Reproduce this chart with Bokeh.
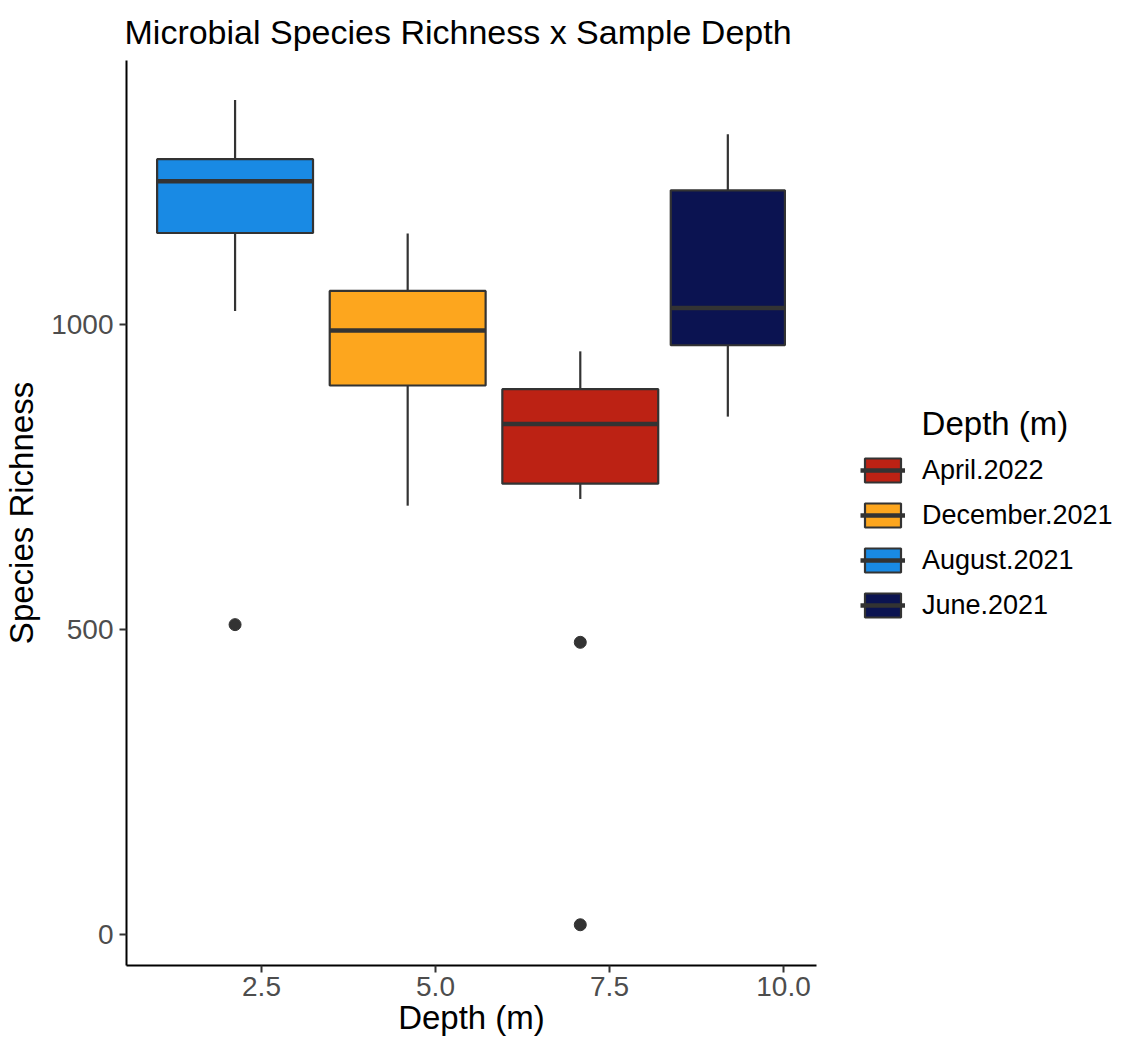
from bokeh.plotting import figure
from bokeh.models import ColumnDataSource, Legend, LegendItem, Range1d, FixedTicker
from bokeh.embed import file_html
from bokeh.resources import INLINE

# ---- data ----
months = ["April.2022", "December.2021", "August.2021", "June.2021"]
depth = [7.08, 4.6, 2.12, 9.2]
lower_whisker = [714, 703, 1022, 849]
q1 = [739, 900, 1150, 966]
median = [837, 990, 1235, 1027]
q3 = [894, 1055, 1271, 1220]
upper_whisker = [956, 1149, 1368, 1312]
outlier_month = ["August.2021", "April.2022", "April.2022"]
outlier_value = [508, 479, 16]
x_ticks = [2.5, 5.0, 7.5, 10.0]
y_ticks = [0, 500, 1000]

# ---- styling ----
colors = ["#BC2214", "#FDA61E", "#198AE4", "#0B1351"]
box_width = [2.24, 2.24, 2.24, 1.64]
FONT = "Liberation Sans"
EDGE = "#333333"

p = figure(width=1129, height=1047, frame_width=690, frame_height=905,
           output_backend="svg", toolbar_location=None,
           x_range=Range1d(0.56, 10.474), y_range=Range1d(-50.8, 1432.8),
           min_border_left=126, min_border_top=60, min_border_bottom=82,
           min_border_right=0)
p.background_fill_color = "white"
p.border_fill_color = "white"
p.outline_line_color = None
p.grid.visible = False

p.title.text = "Microbial Species Richness x Sample Depth"
p.title.text_font = FONT
p.title.text_font_size = "34px"
p.title.text_font_style = "normal"
p.title.text_color = "black"
p.title.align = "left"
p.title.offset = -2
p.title.text_line_height = 0.8
p.title.standoff = 19

items = []
for i, m in enumerate(months):
    src = ColumnDataSource(dict(x=[depth[i]], lw=[lower_whisker[i]], q1=[q1[i]],
                                med=[median[i]], q3=[q3[i]], uw=[upper_whisker[i]],
                                w=[box_width[i]]))
    p.segment(x0="x", y0="uw", x1="x", y1="q3", source=src,
              line_color=EDGE, line_width=2.2)
    p.segment(x0="x", y0="q1", x1="x", y1="lw", source=src,
              line_color=EDGE, line_width=2.2)
    box = p.vbar(x="x", width="w", bottom="q1", top="q3", source=src,
                 fill_color=colors[i], line_color=EDGE, line_width=2.2)
    xm0 = depth[i] - box_width[i] / 2
    xm1 = depth[i] + box_width[i] / 2
    med = p.segment(x0=[xm0], y0=[median[i]], x1=[xm1], y1=[median[i]],
                    line_color=EDGE, line_width=4.5)
    items.append(LegendItem(label=m, renderers=[box, med]))

ox = [depth[months.index(m)] for m in outlier_month]
p.scatter(x=ox, y=outlier_value, size=12, fill_color=EDGE, line_color=EDGE)

# axes
for ax in (p.xaxis[0], p.yaxis[0]):
    ax.axis_line_color = "black"
    ax.axis_line_width = 2
    ax.major_tick_line_color = EDGE
    ax.major_tick_line_width = 2
    ax.major_tick_in = 0
    ax.major_tick_out = 7
    ax.minor_tick_line_color = None
    ax.major_label_text_font = FONT
    ax.major_label_text_font_size = "28px"
    ax.major_label_text_color = "#4D4D4D"
    ax.axis_label_text_font = FONT
    ax.axis_label_text_font_size = "33px"
    ax.axis_label_text_font_style = "normal"
    ax.axis_label_text_color = "black"

p.xaxis.ticker = FixedTicker(ticks=x_ticks)
p.xaxis.major_label_overrides = {t: f"{t:.1f}" for t in x_ticks}
p.xaxis.axis_label = "Depth (m)"
p.xaxis.major_label_standoff = 4
p.xaxis.axis_label_standoff = 0

p.yaxis.ticker = FixedTicker(ticks=y_ticks)
p.yaxis.axis_label = "Species Richness"
p.yaxis.major_label_standoff = 6
p.yaxis.axis_label_standoff = 8

# legend title is centred over the keys in the reference: pad with no-break spaces
legend_title = "\u00a0" * 6 + "\u2009" + "Depth (m)"
legend = Legend(items=items, title=legend_title, location="center_left",
                orientation="vertical")
legend.title_text_font = FONT
legend.title_text_font_size = "33px"
legend.title_text_font_style = "normal"
legend.title_text_color = "black"
legend.title_standoff = 12
legend.label_text_font = FONT
legend.label_text_font_size = "27px"
legend.label_text_color = "black"
legend.glyph_width = 45
legend.glyph_height = 30
legend.label_height = 30
legend.label_standoff = 17
legend.spacing = 14
legend.padding = 5
legend.margin = 44
legend.border_line_color = None
legend.background_fill_color = "white"
p.add_layout(legend, "right")

open("out.html", "w").write(file_html(p, INLINE))
